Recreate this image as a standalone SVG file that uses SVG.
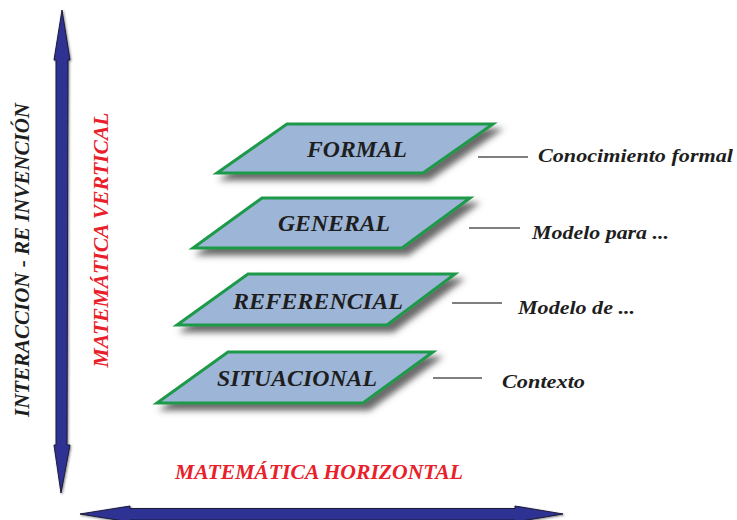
<svg xmlns="http://www.w3.org/2000/svg" width="737" height="520" viewBox="0 0 737 520">
<defs>
<filter id="sh" x="-10%" y="-20%" width="130%" height="160%">
<feGaussianBlur in="SourceAlpha" stdDeviation="3"/>
<feOffset dx="6" dy="6" result="b"/>
<feFlood flood-color="#444" flood-opacity="0.8"/>
<feComposite in2="b" operator="in"/>
<feMerge><feMergeNode/><feMergeNode in="SourceGraphic"/></feMerge>
</filter>
<filter id="ash" x="-20%" y="-5%" width="140%" height="110%">
<feGaussianBlur in="SourceAlpha" stdDeviation="1"/>
<feOffset dx="1" dy="1" result="b"/>
<feFlood flood-color="#333" flood-opacity="0.6"/>
<feComposite in2="b" operator="in"/>
<feMerge><feMergeNode/><feMergeNode in="SourceGraphic"/></feMerge>
</filter>
</defs>
<style>
.arrow{fill:#2e3192;stroke:#1a1a3a;stroke-width:1;filter:url(#ash)}
.para{fill:#9db5d6;stroke:#1f9a4a;stroke-width:3;stroke-linejoin:miter;filter:url(#sh)}
text{font-family:"Liberation Serif","Times New Roman",Times,serif;font-weight:bold;font-style:italic}
.lvl{font-size:24px;fill:#1e1e1e;text-anchor:middle}
.lbl{font-size:19px;fill:#1e1e1e}
.red{font-size:21px;fill:#e8202a;text-anchor:middle}
.dark{font-size:21px;fill:#1e1e1e;text-anchor:middle}
.conn{stroke:#555;stroke-width:1.5;fill:none}
</style>
<rect width="737" height="520" fill="#fff"/>
<g id="axes">
<polygon class="arrow" points="62,10 70,60 68,60 67,445 70,445 61,493 54,445 56,445 56,60 54,60"/>
<polygon class="arrow" points="80,514 130,506 130,508.5 515,508.5 515,506 563,514 515,522 515,520 130,520 130,522"/>
</g>
<g id="axis-labels">
<text class="dark" transform="translate(29,260) rotate(-90)" textLength="314" lengthAdjust="spacingAndGlyphs">INTERACCION - RE INVENCIÓN</text>
<text class="red" transform="translate(108,240) rotate(-90)" textLength="255" lengthAdjust="spacingAndGlyphs">MATEMÁTICA VERTICAL</text>
<text class="red" x="319" y="479" textLength="288" lengthAdjust="spacingAndGlyphs">MATEMÁTICA HORIZONTAL</text>
</g>
<g id="connectors">
<line class="conn" x1="478" y1="157" x2="528" y2="157"/>
<line class="conn" x1="469" y1="228" x2="520" y2="228"/>
<line class="conn" x1="452" y1="303" x2="502" y2="303"/>
<line class="conn" x1="433" y1="378" x2="482" y2="378"/>
</g>
<g id="formal">
<polygon class="para" points="287,124 493,124 423,173 217,173"/>
<text class="lvl" x="357" y="157" textLength="100" lengthAdjust="spacingAndGlyphs">FORMAL</text>
</g>
<g id="general">
<polygon class="para" points="262,198 470,198 402,248 193,248"/>
<text class="lvl" x="334" y="231" textLength="112" lengthAdjust="spacingAndGlyphs">GENERAL</text>
</g>
<g id="referencial">
<polygon class="para" points="248,274 455,274 387,325 177,325"/>
<text class="lvl" x="318" y="309" textLength="170" lengthAdjust="spacingAndGlyphs">REFERENCIAL</text>
</g>
<g id="situacional">
<polygon class="para" points="228,352 433,352 363,403 157,403"/>
<text class="lvl" x="297" y="386" textLength="160" lengthAdjust="spacingAndGlyphs">SITUACIONAL</text>
</g>
<g id="labels">
<text class="lbl" x="538" y="162" textLength="195" lengthAdjust="spacingAndGlyphs">Conocimiento formal</text>
<text class="lbl" x="532" y="239" textLength="137" lengthAdjust="spacingAndGlyphs">Modelo para ...</text>
<text class="lbl" x="518" y="314" textLength="117" lengthAdjust="spacingAndGlyphs">Modelo de ...</text>
<text class="lbl" x="502" y="388" textLength="83" lengthAdjust="spacingAndGlyphs">Contexto</text>
</g>
</svg>
